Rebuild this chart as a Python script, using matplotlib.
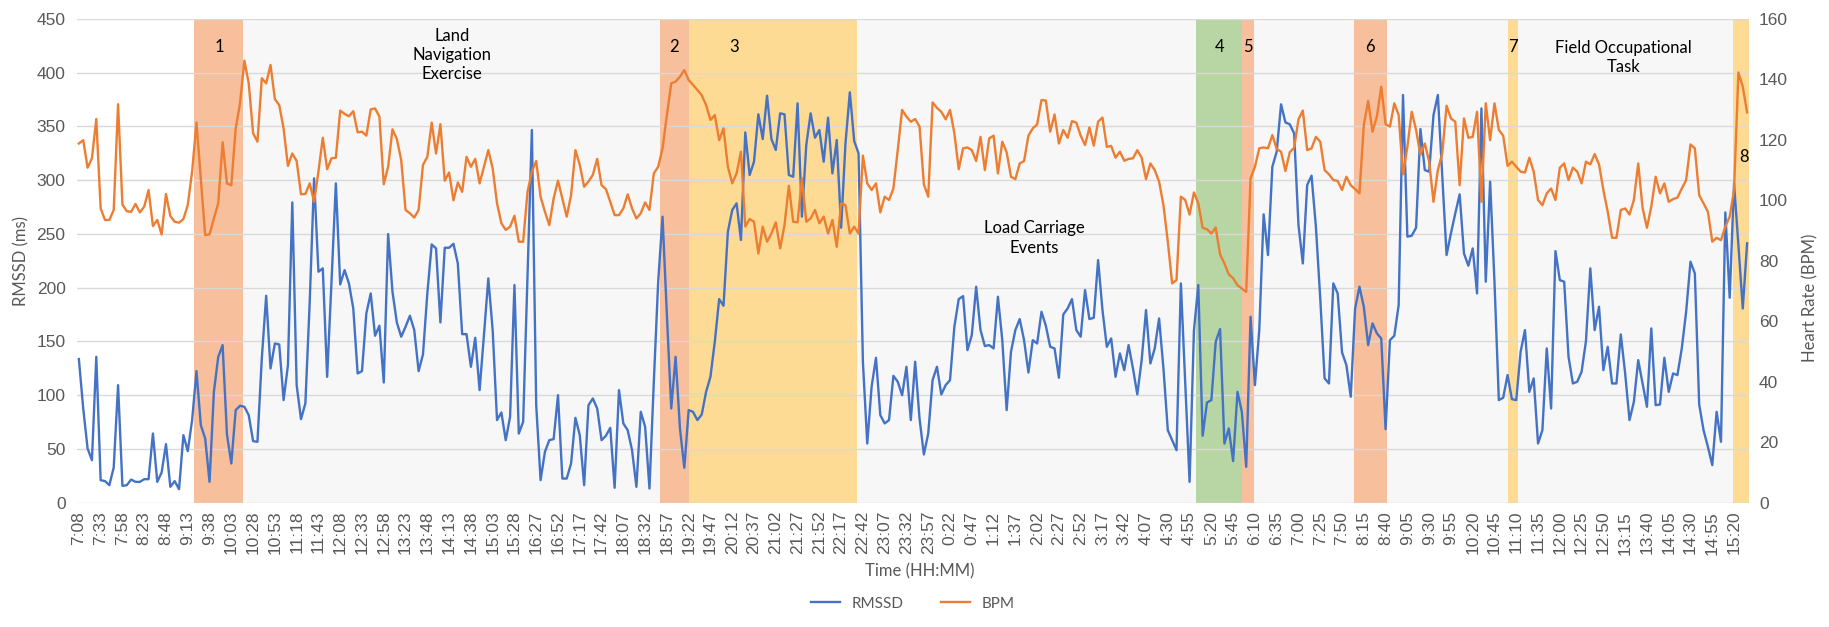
import numpy as np
import matplotlib
matplotlib.use("Agg")
import matplotlib.pyplot as plt

# RMSSD (ms) and heart rate (BPM), one sample every ~5 min
rmssd = [
    133.5, 87.5, 50.3, 39.4, 135.6, 20.8, 19.9, 16.1, 32.6, 109.2,
    15.5, 16.1, 21.4, 19.2, 19.2, 21.7, 21.7, 64.2, 19.2, 27.9,
    54.3, 14.6, 19.9, 12.4, 62.7, 47.8, 76.7, 122.3, 72.0, 59.6,
    19.2, 103.0, 135.6, 146.5, 63.3, 36.3, 86.0, 90.0, 89.1, 81.3,
    57.1, 56.5, 134.1, 192.4, 124.8, 148.0, 147.1, 95.3, 127.9, 279.3,
    109.2, 77.6, 92.2, 186.8, 301.7, 214.8, 217.9, 117.0, 205.5, 297.0,
    203.0, 216.3, 203.9, 180.6,
    120.1, 122.3, 176.0, 194.6, 155.2, 164.5, 111.7, 249.8, 196.2, 167.6,
    154.3, 163.6, 173.8, 160.5, 122.3, 137.8, 194.6, 240.2, 236.5, 167.6,
    237.1, 237.1, 240.8, 222.5, 156.7, 156.7, 126.3, 153.3, 104.6, 155.8,
    208.6, 160.5, 76.7, 83.8, 58.0, 79.8, 202.4, 64.2, 75.1, 211.7,
    346.7, 90.6, 20.8, 47.2, 58.0, 59.0, 99.9, 22.3, 22.3, 36.3,
    78.8, 62.7, 16.1, 90.6, 96.8, 87.5, 58.0, 62.1, 69.5, 13.7,
    104.6, 73.6, 67.3, 48.7,
    14.6, 84.4, 70.5, 13.0, 112.4, 205.5, 266.0, 174.4, 87.5, 135.6,
    68.9, 32.3, 86.0, 84.4, 76.7, 81.9, 103.0, 117.0, 149.6, 189.3,
    183.1, 252.0, 272.2, 278.4, 244.3, 344.5, 304.8, 317.2, 361.3, 338.3,
    378.6, 338.3, 328.1, 362.2, 361.3, 304.8, 303.2, 371.5, 266.0, 332.7,
    362.2, 339.5, 346.7, 317.2, 358.2, 306.3, 337.4, 255.7, 334.3, 381.8,
    336.4, 325.0, 131.0, 54.9, 107.7, 134.7, 81.3, 73.6, 76.7, 117.9,
    112.4, 99.9, 126.3, 76.7,
    131.0, 78.2, 44.7, 64.2, 113.9, 126.3, 100.6, 109.2, 113.9, 163.6,
    189.3, 192.1, 141.8, 155.8, 200.8, 160.5, 145.6, 146.5, 143.4, 191.5,
    151.1, 86.0, 140.3, 160.5, 170.7, 151.1, 121.0, 151.1, 148.0, 177.5,
    164.5, 144.9, 143.4, 116.1, 175.0, 180.6, 189.3, 160.5, 154.3, 197.7,
    170.7, 171.9, 225.6, 179.1, 144.9, 152.7, 117.0, 138.7, 123.2, 146.5,
    124.8, 100.6, 132.5, 179.1, 129.4, 143.4, 171.3, 124.8, 67.3, 58.0,
    48.7, 203.9, 112.4, 19.2, 160.0,
    202.4, 62.1, 93.1, 95.3, 149.6, 161.4, 54.9, 68.9, 38.5, 103.0,
    84.4, 33.2, 172.9, 109.2, 160.5, 268.2, 230.3, 312.5, 326.5, 370.6,
    353.8, 352.0, 343.6, 258.2, 222.5, 295.5, 304.2, 256.7, 189.9, 115.5,
    110.8, 203.9, 194.6, 139.7, 127.9, 98.4, 180.6, 200.8, 182.2, 146.5,
    166.7, 157.4, 152.7, 68.3, 151.1, 155.2, 183.7, 379.3, 247.4, 248.3,
    255.7, 347.6, 309.4, 307.9, 360.6, 379.3, 304.8, 230.3, 250.5, 269.1,
    286.8, 231.8, 220.4, 236.5, 194.6,
    366.8, 205.5, 298.6, 205.5, 95.3, 97.5, 118.6, 96.2, 95.3, 140.3,
    160.5, 103.0, 115.5, 54.9, 67.3, 143.4, 87.5, 234.0, 207.0, 205.5,
    135.6, 110.8, 112.4, 121.7, 150.2, 217.9, 160.5, 182.2, 123.2, 144.9,
    110.8, 110.8, 156.4, 120.1, 76.7, 93.7, 132.5, 110.8, 89.1, 162.0,
    90.6, 91.2, 134.7, 103.0, 120.1, 118.6, 143.4, 177.5, 224.1, 213.2,
    91.2, 67.3, 51.8, 34.8, 84.4, 56.5, 270.0, 190.6, 297.0, 239.6,
    180.6, 241.2,
]

bpm = [
    118.8, 119.9, 110.8, 113.9, 126.9, 97.3, 93.5, 93.5, 96.8, 131.8,
    98.6, 96.4, 96.2, 98.8, 96.0, 97.9, 103.4, 91.5, 93.5, 88.7,
    102.1, 94.8, 92.9, 92.6, 93.8, 98.4, 109.5, 125.7, 107.3, 88.5,
    88.7, 94.0, 99.0, 119.2, 105.6, 105.0, 123.8, 132.1, 146.2, 138.7,
    122.2, 119.4, 140.4, 138.7, 144.8, 133.5, 131.5, 123.8, 111.4, 115.5,
    113.0, 102.0, 102.1, 105.6, 99.5, 109.5, 120.7, 110.3, 113.9, 114.1,
    129.7, 128.6, 127.8, 129.5,
    122.5, 122.7, 121.4, 130.1, 130.4, 127.7, 105.3, 111.1, 123.5, 120.3,
    113.3, 96.8, 95.7, 94.3, 96.8, 111.7, 114.4, 125.7, 115.5, 125.2,
    106.5, 109.2, 100.0, 105.9, 102.8, 114.4, 111.1, 113.7, 105.6, 111.1,
    116.6, 110.6, 99.0, 92.4, 90.2, 91.3, 94.9, 86.3, 86.3, 102.8,
    109.5, 113.0, 101.2, 96.2, 91.8, 100.6, 106.5, 100.6, 94.6, 101.7,
    116.6, 111.7, 104.5, 106.2, 108.4, 113.7, 105.0, 103.7, 99.5, 95.1,
    95.1, 97.3, 102.0, 97.3,
    94.0, 95.7, 99.3, 96.8, 108.9, 111.1, 117.2, 128.2, 138.7, 139.3,
    140.9, 143.1, 139.8, 138.2, 136.5, 134.8, 131.5, 126.6, 128.2, 119.9,
    123.8, 111.1, 105.6, 108.9, 116.1, 91.3, 93.8, 92.9, 82.4, 91.3,
    86.3, 89.0, 92.7, 84.1, 91.8, 104.8, 92.9, 92.7, 107.3, 92.9,
    94.0, 96.8, 92.4, 94.6, 89.0, 93.5, 84.6, 99.0, 98.4, 89.0,
    91.3, 89.0, 114.8, 105.6, 103.4, 105.6, 96.0, 101.2, 100.1, 103.9,
    116.6, 129.9, 127.7, 126.0,
    126.9, 124.4, 105.3, 101.2, 132.4, 130.6, 129.3, 126.8, 129.9, 122.2,
    110.3, 117.2, 117.5, 116.6, 113.0, 121.0, 110.0, 120.5, 121.4, 108.9,
    119.4, 115.9, 107.8, 107.0, 112.2, 113.0, 121.4, 123.8, 125.1, 133.2,
    133.0, 122.7, 128.4, 118.8, 123.3, 120.7, 126.2, 125.7, 121.4, 118.3,
    124.1, 118.1, 126.0, 127.4, 117.7, 118.0, 114.1, 116.1, 113.1, 113.7,
    113.9, 116.6, 114.1, 107.0, 112.2, 110.0, 106.2, 98.4, 86.3, 72.5,
    73.6, 101.2, 100.1, 95.3, 102.6,
    99.0, 90.9, 90.4, 89.0, 91.0, 82.1, 79.1, 75.5, 74.2, 71.9,
    70.8, 69.7, 107.3, 111.1, 117.2, 117.5, 117.2, 121.6, 117.0, 116.1,
    109.7, 115.9, 117.4, 126.8, 129.7, 116.6, 117.2, 121.0, 119.4, 110.0,
    108.6, 106.7, 106.4, 103.4, 107.8, 105.0, 103.7, 102.3, 124.9, 132.9,
    122.7, 127.7, 137.6, 125.2, 124.4, 132.1, 128.2, 108.6, 117.7, 129.3,
    123.3, 115.0, 118.8, 112.8, 99.5, 110.0, 115.5, 131.3, 127.1, 126.0,
    105.0, 127.1, 120.7, 121.0, 129.3,
    99.5, 132.1, 119.9, 132.1, 123.3, 121.4, 111.4, 112.8, 111.1, 109.5,
    109.2, 114.1, 109.5, 100.1, 98.4, 102.3, 103.9, 100.1, 110.8, 112.2,
    106.7, 110.8, 109.5, 105.6, 112.8, 111.9, 115.3, 111.9, 103.4, 96.2,
    87.6, 87.6, 96.8, 97.3, 95.3, 100.1, 112.2, 97.5, 90.9, 97.9,
    107.8, 102.3, 105.6, 99.5, 100.4, 100.9, 103.9, 106.7, 118.5, 117.2,
    101.7, 99.0, 96.2, 86.3, 87.6, 86.8, 91.3, 94.6, 103.4, 142.3,
    137.6, 129.1,
]

# every 5th sample is labelled on the time axis
tick_labels = [
    "7:08", "7:33", "7:58", "8:23", "8:48", "9:13", "9:38", "10:03", "10:28", "10:53",
    "11:18", "11:43", "12:08", "12:33", "12:58", "13:23", "13:48", "14:13", "14:38", "15:03",
    "15:28", "16:27", "16:52", "17:17", "17:42", "18:07", "18:32", "18:57", "19:22", "19:47",
    "20:12", "20:37", "21:02", "21:27", "21:52", "22:17", "22:42", "23:07", "23:32", "23:57",
    "0:22", "0:47", "1:12", "1:37", "2:02", "2:27", "2:52", "3:17", "3:42", "4:07",
    "4:30", "4:55", "5:20", "5:45", "6:10", "6:35", "7:00", "7:25", "7:50", "8:15",
    "8:40", "9:05", "9:30", "9:55", "10:20", "10:45", "11:10", "11:35", "12:00", "12:25",
    "12:50", "13:15", "13:40", "14:05", "14:30", "14:55", "15:20",
]

# event phases, in sample units
phase_start = [26.5, 133.4, 140.0, 256.4, 267.0, 292.7, 328.0, 379.8]
phase_end = [37.7, 140.0, 178.6, 267.0, 269.8, 300.3, 330.3, 383.5]
phase_kind = ["o", "o", "y", "g", "o", "o", "y", "y"]
phase_name = ["1", "2", "3", "4", "5", "6", "7", "8"]
name_x = [32.2, 136.6, 150.4, 261.8, 268.5, 296.4, 329.2, 382.4]
name_y = [424, 424, 424, 424, 424, 424, 424, 322]

kolory = {"o": "#F7BF9B", "y": "#FEDB95", "g": "#B8D6A4"}

plt.rcParams['font.family'] = ['Lato', 'DejaVu Sans']

fig = plt.figure(figsize=(18.29, 6.27), dpi=100)
ax = fig.add_axes([0.04193, 0.19856, 0.91449, 0.77113])
ax2 = ax.twinx()

x = np.arange(len(rmssd))

ax.axvspan(37.7, len(rmssd) - 0.5, color="#F7F7F7", lw=0, zorder=0.1)
for s, e, k in zip(phase_start, phase_end, phase_kind):
    ax.axvspan(s, e, color=kolory[k], lw=0, zorder=0.2)

ax.set_axisbelow(True)
ax.yaxis.grid(True, color="#D9D9D9", lw=1.0)

l1, = ax.plot(x, rmssd, color="#4472C4", lw=1.7, zorder=3)
l2, = ax2.plot(x, bpm, color="#ED7D31", lw=1.7, zorder=3)

ax.set_xlim(-0.5, len(rmssd) - 0.5)
ax.set_ylim(0, 450)
ax2.set_ylim(0, 160)
ax.set_yticks(np.arange(0, 451, 50))
ax2.set_yticks(np.arange(0, 161, 20))
ax.set_xticks(np.arange(0, len(tick_labels) * 5, 5))
ax.set_xticklabels(tick_labels, rotation=90)

for a in (ax, ax2):
    for sp in a.spines.values():
        sp.set_visible(False)
    a.tick_params(length=0, colors="#595959", labelsize=12.5)
    for t in a.get_xticklabels() + a.get_yticklabels():
        t.set_fontfamily("Liberation Sans")
ax.tick_params(axis="x", pad=6)
ax.tick_params(axis="y", pad=8)
ax2.tick_params(axis="y", pad=7)

for nm, tx, ty in zip(phase_name, name_x, name_y):
    ax.text(tx, ty, nm, ha="center", va="center", fontsize=12, color="black", zorder=5)

ax.text(85.6, 416.5, "Land\nNavigation\nExercise", ha="center", va="center",
        fontsize=12, linespacing=1.25, zorder=5)
ax.text(219.3, 246.2, "Load Carriage\nEvents", ha="center", va="center",
        fontsize=12, linespacing=1.25, zorder=5)
ax.text(354.7, 414.5, "Field Occupational\nTask", ha="center", va="center",
        fontsize=12, linespacing=1.25, zorder=5)

fig.text(0.0115, 0.584, "RMSSD (ms)", rotation=90, ha="center", va="center",
         fontsize=12, color="#595959")
fig.text(0.990, 0.525, "Heart Rate (BPM)", rotation=90, ha="center", va="center",
         fontsize=12, color="#595959")
fig.text(0.503, 0.088, "Time (HH:MM)", ha="center", va="center",
         fontsize=12, color="#595959")

fig.legend([l1, l2], ["RMSSD", "BPM"], loc="center", bbox_to_anchor=(0.499, 0.037),
           ncol=2, frameon=False, fontsize=11, handlelength=1.9, columnspacing=2.4,
           labelcolor="#595959")

fig.savefig("out.png", dpi=100)
